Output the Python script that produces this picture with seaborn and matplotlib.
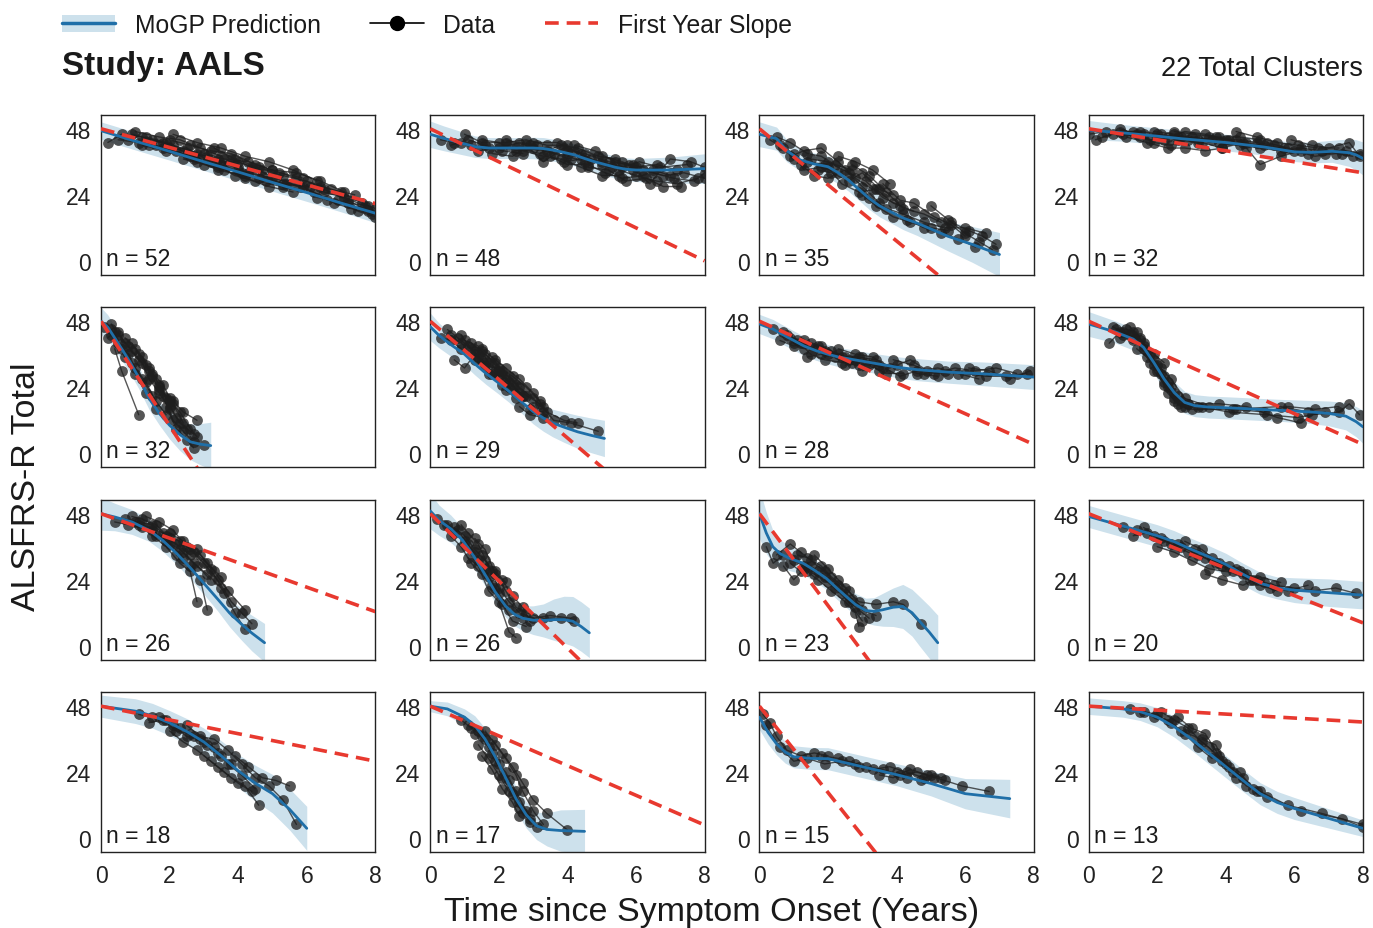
import numpy as np
import pandas as pd
import matplotlib
matplotlib.use("Agg")
import matplotlib.pyplot as plt
from matplotlib.lines import Line2D
from matplotlib.patches import Patch
import seaborn as sns

# ---------------- data ----------------
N_PATIENTS = [52, 48, 35, 32, 32, 29, 28, 28, 26, 26, 23, 20, 18, 17, 15, 13]
FIRST_YEAR_SLOPE = [-3.4, -6.0, -10.2, -2.0, -19.0, -10.6, -5.6, -5.6,
                    -4.45, -12.2, -16.7, -4.96, -2.5, -5.4, -15.7, -0.72]
SLOPE_INTERCEPT = 48
X_TICKS = [0, 2, 4, 6, 8]
Y_TICKS = [0, 24, 48]
TOTAL_CLUSTERS = 22
STUDY = "AALS"

# MoGP mean (knots) and half-width of the band at the same knots
GP_X = [
    [0, 1, 2, 3, 4, 5, 6, 7, 8],
    [0, 0.4, 0.7, 1.0, 1.3, 1.7, 2, 2.5, 3, 3.3, 3.6, 3.9, 4.2, 4.5, 4.8, 5.1, 5.4, 5.7, 6, 7, 8],
    [0, 0.5, 0.8, 1.2, 1.6, 2, 2.3, 2.6, 2.9, 3.2, 3.5, 3.8, 4.2, 4.6, 5.5, 6.2, 7.0],
    [0, 1, 2, 2.7, 4, 5.1, 5.6, 6, 6.5, 7.1, 7.6, 7.8, 8],
    [0, 0.2, 0.5, 0.85, 1.1, 1.4, 1.7, 2.0, 2.3, 2.6, 2.9, 3.2],
    [0, 0.26, 0.6, 1.0, 1.3, 1.63, 2.0, 2.3, 2.6, 3.0, 3.3, 3.57, 3.9, 4.3, 4.7, 5.08],
    [0, 0.4, 0.7, 1, 1.3, 1.65, 2, 2.3, 2.9, 3.5, 4, 4.6, 5.5, 6.5, 8],
    [0, 0.8, 1.3, 1.6, 1.9, 2.2, 2.5, 2.8, 3.1, 3.5, 4.1, 5.6, 6.5, 7.0, 7.5, 7.8, 8],
    [0, 0.4, 0.9, 1.4, 1.8, 2.2, 2.6, 3.0, 3.4, 3.75, 4.1, 4.4, 4.77],
    [0, 0.26, 0.6, 0.94, 1.3, 1.63, 1.9, 2.2, 2.45, 2.7, 3.0, 3.3, 3.6, 3.9, 4.16, 4.4, 4.64],
    [0, 0.2, 0.39, 0.6, 0.88, 1.27, 1.6, 1.95, 2.25, 2.53, 2.8, 3.1, 3.35, 3.6, 3.9, 4.18,
     4.45, 4.67, 4.95, 5.2],
    [0, 1, 2, 2.5, 3, 3.5, 4, 4.5, 5, 5.5, 6, 7, 8],
    [0, 1, 1.5, 2, 2.5, 3, 3.5, 4, 4.5, 5, 5.5, 6],
    [0, 0.5, 1, 1.3, 1.6, 1.9, 2.2, 2.5, 2.8, 3.1, 3.4, 3.8, 4.5],
    [0, 0.25, 0.5, 0.75, 1, 1.5, 2, 3, 4, 5, 6, 7.3],
    [0, 1, 1.5, 2, 2.5, 3, 3.5, 4, 4.5, 5, 5.5, 6, 7, 8],
]
GP_Y = [
    [47.3, 43.5, 39.8, 36.0, 32.3, 28.5, 24.8, 21.0, 17.3],
    [46, 44.5, 43.5, 42.5, 41.5, 41, 41, 41, 41, 40.8, 40.2, 39.4, 38.5, 37.2, 36, 35, 34,
     33.3, 33, 33, 33.5],
    [46, 44.4, 40, 36.6, 35.2, 34.2, 32, 29.3, 26, 22.7, 20, 18, 15.5, 13.7, 8.9, 6, 2.3],
    [47.5, 46.5, 45.3, 44.4, 43, 41.4, 40.4, 39.6, 39.4, 39.8, 39.3, 38.5, 37.2],
    [48, 45.8, 40, 33.1, 27.5, 20, 14.5, 10.2, 6.8, 4.2, 3.3, 2.8],
    [46, 42.8, 39.5, 36, 32.5, 29, 25.5, 22.5, 19.3, 15.2, 12.8, 11, 9.5, 7.8, 6.5, 5.4],
    [47, 45.1, 43, 41, 39, 37.3, 36, 35, 33.7, 32.4, 31.3, 30.4, 29.5, 28.9, 27.7],
    [47, 44, 41.5, 38.5, 33, 27, 22, 18.5, 17.3, 16.8, 16.5, 15.6, 15, 14.5, 13.5, 11.5, 9.6],
    [48, 46.8, 45, 42, 38.3, 33.6, 28.4, 22.7, 17, 11.9, 7.8, 4.6, 1.1],
    [49, 45.6, 42.5, 38.4, 32, 25.2, 19.5, 14.4, 11.5, 10, 9.3, 9.2, 9.5, 9.5, 8.9, 7, 4.7],
    [48, 41, 36, 33.5, 31.8, 30, 27.5, 24.5, 21, 17.9, 15, 12.8, 12.5, 13.1, 14, 14.3, 12,
     8.9, 5, 1.1],
    [47, 43.5, 40, 37.8, 35, 32.4, 29.6, 26, 22.7, 21, 20.2, 19.3, 18.4],
    [48, 46.2, 44.5, 41.9, 38.8, 35, 30, 24.5, 20, 16.2, 10.5, 3.6],
    [48, 47, 44, 41, 36, 29.5, 22, 14.4, 8.5, 4.5, 3.2, 2.8, 2.5],
    [44, 38.5, 34.3, 31.3, 29.6, 29, 28.9, 26, 23.1, 19.9, 16.2, 14.4],
    [48, 47, 46, 44, 40.5, 36, 31, 26, 21, 16.2, 13, 10.8, 7.2, 3.6],
]
GP_BAND = [
    [3.2, 3.2, 3.2, 3.2, 3.2, 3.2, 3.2, 3.2, 3.4],
    [4.8, 4.5, 4.3, 4.1, 3.9, 3.8, 3.8, 3.8, 3.9, 4, 4, 4, 4, 4, 4, 4, 4, 4.1, 4.2, 4.7, 5.4],
    [4.5, 4.2, 4, 4, 4, 4, 4, 4, 4, 4, 4, 4, 4.2, 4.5, 5.3, 6.5, 8],
    [3.5, 3, 3, 3, 3, 3, 3.2, 3.5, 3.8, 4, 5, 5.5, 6],
    [5, 4.5, 4.2, 4, 4, 4, 4.2, 5, 5.8, 6.5, 7.5, 8.5],
    [5, 4.5, 4.2, 4, 4, 4, 4, 4, 4, 4.5, 4.8, 5, 5.5, 6, 6.3, 6.6],
    [3.5, 3.5, 3.5, 3.5, 3.5, 3.5, 3.5, 3.5, 3.5, 3.6, 3.8, 4, 4, 4.3, 4.5],
    [4.5, 4, 4, 4, 4, 4, 4, 4, 4, 4, 4, 4, 4.2, 4.5, 5, 5.5, 6],
    [6, 5, 4.5, 4, 4, 4, 4, 4, 4.3, 5, 5.8, 6.5, 7],
    [6.5, 5.5, 5, 4.5, 4.2, 4, 4, 4, 4.2, 4.5, 5.2, 6, 7.5, 8.5, 9, 9, 9],
    [9, 7.5, 6, 5, 4.5, 4, 4, 4, 4, 4, 4, 4.5, 5, 6, 7, 8, 8.5, 9, 9.5, 10],
    [4, 4, 4, 4, 4, 4, 4, 4, 4, 4, 4.5, 5, 5],
    [4, 4.5, 4.5, 4.5, 4.7, 5, 5.5, 6, 6.5, 7, 7.5, 8],
    [2, 2.5, 3, 3.5, 4, 4, 4, 4.5, 4.8, 5, 6, 7.5, 8],
    [4.5, 4.2, 4, 4, 4, 4, 4, 4, 4, 4.5, 5.5, 7],
    [3, 3, 3.2, 3.5, 3.8, 4, 4, 4, 4, 4, 4, 4, 3.5, 3],
]

# patient trajectories: (years since onset, ALSFRS-R total)
DATA_01 = [
    [(0.2, 43), (0.6, 46), (1.2, 45), (1.8, 43), (2.4, 40)],
    [(0.9, 46), (1.5, 44), (2.1, 42), (2.8, 39), (3.4, 37), (4.0, 34)],
    [(1.3, 45), (1.9, 43), (2.5, 39), (3.1, 38), (3.7, 35), (4.3, 32), (5.0, 30)],
    [(1.6, 42), (2.2, 40), (2.8, 36), (3.5, 35), (4.1, 32), (4.8, 29)],
    [(2.0, 44), (2.6, 42), (3.2, 40), (3.8, 39), (4.5, 35), (5.2, 32), (5.9, 30)],
    [(2.4, 37), (3.0, 35), (3.6, 33), (4.2, 30), (4.9, 27), (5.6, 25)],
    [(3.3, 41), (3.9, 37), (4.6, 34), (5.3, 31), (6.0, 29), (6.7, 26), (7.4, 24)],
    [(4.4, 33), (5.0, 33), (5.7, 30), (6.4, 27), (7.0, 25), (7.6, 21), (8.0, 19)],
    [(5.5, 28), (6.2, 25), (6.8, 21), (7.3, 19), (7.9, 17)],
    [(6.3, 23), (6.9, 22), (7.5, 18), (8.0, 16)],
    [(1.0, 47), (1.7, 45), (2.3, 44), (2.9, 41), (3.5, 38)],
    [(0.5, 44), (1.1, 43), (1.8, 41), (2.6, 38), (3.3, 36), (4.0, 36), (4.7, 33)],
    [(2.7, 38), (3.4, 34), (4.0, 33), (4.6, 30), (5.4, 28), (6.1, 27)],
    [(6.5, 25), (7.1, 23), (7.7, 20)],
    [(0.8, 44), (1.4, 42), (2.0, 41), (2.7, 37), (3.4, 33), (4.2, 31)],
    [(1.2, 42), (1.9, 40), (2.5, 41), (3.2, 36), (3.9, 31), (4.5, 29), (5.3, 27)],
    [(2.1, 46), (2.8, 43), (3.5, 41), (4.2, 38), (4.9, 36), (5.6, 33), (6.3, 29)],
    [(3.0, 39), (3.6, 37), (4.3, 36), (5.0, 33), (5.7, 32), (6.4, 29), (7.1, 25)],
    [(4.7, 31), (5.3, 28), (5.9, 27), (6.6, 22), (7.2, 21), (7.8, 20)],
    [(3.8, 37), (4.4, 34), (5.1, 30), (5.8, 27), (6.5, 26), (7.2, 22), (7.8, 18)],
]
DATA_02 = [
    [(0.3, 44), (0.7, 43), (1.2, 42), (1.7, 41), (2.3, 42)],
    [(0.9, 43), (1.4, 40), (2.0, 41), (2.6, 43), (3.1, 42)],
    [(1.5, 44), (2.0, 43), (2.5, 40), (3.0, 41), (3.6, 39), (4.1, 37)],
    [(1.8, 39), (2.4, 38), (2.9, 42), (3.4, 40), (4.0, 38), (4.5, 36)],
    [(2.2, 44), (2.8, 42), (3.3, 36), (3.9, 41), (4.4, 39), (5.0, 35)],
    [(3.0, 43), (3.7, 43), (4.2, 40), (4.7, 37), (5.3, 34), (5.9, 33)],
    [(3.5, 38), (4.0, 35), (4.6, 35), (5.1, 32), (5.6, 30), (6.2, 31)],
    [(4.2, 42), (4.8, 40), (5.4, 36), (6.0, 34), (6.6, 35), (7.2, 33)],
    [(4.6, 34), (5.2, 33), (5.7, 29), (6.3, 30), (6.8, 27), (7.3, 27)],
    [(5.0, 38), (5.6, 36), (6.2, 33), (6.8, 31), (7.4, 32), (8.0, 30)],
    [(5.8, 35), (6.4, 28), (7.0, 37), (7.6, 36), (8.0, 34)],
    [(6.5, 32), (7.1, 30), (7.7, 29), (8.0, 32)],
    [(0.6, 42), (1.1, 44), (1.6, 42), (2.1, 40), (2.7, 39)],
    [(2.5, 41), (3.2, 39), (3.8, 42), (4.3, 41), (4.9, 38), (5.4, 37)],
    [(4.0, 40), (4.5, 39), (5.2, 36), (5.9, 35), (6.5, 33), (7.0, 31)],
    [(1.0, 46), (1.5, 43), (2.2, 43), (2.8, 44), (3.4, 42), (4.0, 42)],
    [(2.7, 40), (3.3, 38), (3.8, 37), (4.4, 34), (5.0, 31), (5.5, 31)],
    [(5.5, 33), (6.0, 31), (6.6, 29), (7.2, 28), (7.8, 30)],
    [(3.9, 36), (4.4, 37), (5.0, 36), (5.6, 34), (6.1, 36), (6.7, 34), (7.5, 35)],
]
DATA_03 = [
    [(0.3, 44), (0.7, 41), (1.0, 37), (1.4, 36), (1.9, 35)],
    [(0.6, 42), (1.0, 39), (1.3, 33), (1.8, 34), (2.3, 32)],
    [(0.9, 38), (1.3, 40), (1.8, 41), (2.3, 36), (2.8, 30), (3.3, 26)],
    [(1.2, 35), (1.6, 31), (2.0, 30), (2.5, 33), (3.0, 27), (3.5, 21)],
    [(1.5, 37), (2.0, 36), (2.6, 32), (3.1, 29), (3.6, 23), (4.1, 20)],
    [(2.0, 34), (2.4, 28), (2.9, 25), (3.4, 26), (3.9, 21), (4.5, 18)],
    [(2.7, 35), (3.2, 31), (3.7, 25), (4.2, 19), (4.8, 17), (5.3, 14)],
    [(3.0, 24), (3.4, 20), (3.9, 16), (4.4, 14), (5.0, 12), (5.5, 11)],
    [(3.6, 28), (4.1, 22), (4.5, 21), (5.1, 16), (5.6, 13), (6.0, 9)],
    [(4.3, 15), (4.8, 12), (5.3, 10), (5.8, 8), (6.3, 5)],
    [(5.0, 20), (5.5, 15), (6.0, 10), (6.4, 7), (6.8, 4)],
    [(2.3, 38), (2.8, 36), (3.3, 33), (3.8, 28)],
    [(5.6, 14), (6.1, 11), (6.5, 9), (6.9, 6)],
    [(0.5, 45), (0.9, 43), (1.4, 39), (1.8, 38), (2.2, 35), (2.7, 33)],
    [(1.7, 33), (2.1, 32), (2.6, 29), (3.0, 32), (3.5, 26), (3.9, 24)],
    [(3.2, 23), (3.7, 19), (4.2, 17), (4.8, 14), (5.4, 12), (6.0, 12), (6.6, 10)],
]
DATA_04 = [
    [(0.0, 46), (0.5, 47), (1.0, 46), (1.5, 45), (2.0, 46), (2.6, 45)],
    [(0.2, 44), (0.7, 46), (1.3, 47), (1.8, 44), (2.3, 45), (2.9, 44)],
    [(0.9, 48), (1.4, 46), (1.9, 43), (2.4, 42), (3.0, 45), (3.6, 44)],
    [(1.6, 46), (2.2, 44), (2.8, 47), (3.4, 46), (4.0, 44), (4.6, 43)],
    [(2.7, 45), (3.3, 43), (3.9, 41), (4.5, 43), (5.1, 42), (5.7, 41)],
    [(3.5, 45), (4.1, 44), (4.6, 41), (5.0, 35), (5.6, 38), (6.2, 40)],
    [(4.3, 47), (4.9, 45), (5.5, 43), (6.1, 42), (6.7, 41), (7.3, 41)],
    [(5.2, 43), (5.8, 41), (6.4, 39), (6.9, 39), (7.5, 40), (7.9, 39)],
    [(5.9, 44), (6.5, 42), (7.0, 41), (7.6, 43), (7.9, 38)],
    [(1.1, 45), (1.7, 43), (2.3, 41), (2.8, 41), (3.4, 40), (3.9, 41)],
    [(6.0, 40), (6.6, 38), (7.2, 39), (7.7, 38)],
    [(0.4, 45), (0.9, 47), (1.5, 47), (2.1, 46), (2.6, 44), (3.2, 43)],
    [(2.5, 47), (3.1, 46), (3.7, 45), (4.3, 44), (4.9, 43), (5.4, 42)],
    [(3.8, 43), (4.4, 42), (5.0, 41), (5.6, 40), (6.2, 41), (6.8, 40), (7.4, 39)],
    [(1.9, 47), (2.5, 46), (3.2, 44), (3.8, 45), (4.4, 45), (5.0, 44)],
]
DATA_05 = [
    [(0.1, 46), (0.3, 43), (0.6, 38), (0.9, 33), (1.2, 27), (1.5, 21)],
    [(0.3, 45), (0.5, 40), (0.8, 36), (1.0, 31), (1.3, 26), (1.6, 19), (1.9, 14)],
    [(0.5, 44), (0.7, 40), (0.9, 37), (1.2, 33), (1.4, 27), (1.7, 22), (2.0, 16)],
    [(0.4, 38), (0.6, 30), (1.1, 14)],
    [(0.7, 42), (1.0, 38), (1.3, 32), (1.6, 27), (1.9, 20), (2.2, 13), (2.5, 9)],
    [(1.1, 36), (1.4, 31), (1.7, 25), (2.0, 17), (2.3, 11), (2.7, 7)],
    [(1.5, 28), (1.8, 21), (2.1, 12), (2.4, 8), (2.7, 4), (3.0, 3)],
    [(1.7, 24), (2.0, 19), (2.3, 15), (2.6, 9), (2.8, 6)],
    [(0.2, 42), (0.4, 44), (0.7, 35), (1.0, 29), (1.3, 22), (1.6, 16)],
    [(1.9, 17), (2.2, 9), (2.5, 5), (2.7, 2)],
    [(2.1, 19), (2.4, 15), (2.8, 12)],
    [(0.3, 47), (0.5, 43), (0.8, 39), (1.1, 34), (1.4, 30), (1.7, 23), (2.0, 20)],
    [(0.9, 40), (1.2, 35), (1.5, 29), (1.8, 25), (2.1, 18), (2.4, 11)],
]
DATA_06 = [
    [(0.3, 42), (0.6, 41), (0.9, 38), (1.3, 34), (1.7, 29), (2.1, 25)],
    [(0.5, 45), (0.8, 42), (1.1, 39), (1.5, 34), (1.9, 30), (2.3, 26), (2.7, 21)],
    [(0.7, 34), (1.0, 31), (1.3, 36), (1.6, 32), (2.0, 28)],
    [(0.9, 43), (1.2, 38), (1.6, 36), (2.0, 31), (2.4, 28), (2.8, 24), (3.2, 19)],
    [(1.2, 40), (1.5, 37), (1.9, 33), (2.2, 27), (2.6, 22), (3.0, 17)],
    [(1.4, 35), (1.8, 29), (2.2, 23), (2.5, 20), (2.9, 16), (3.3, 15)],
    [(1.8, 35), (2.1, 30), (2.5, 25), (2.8, 21), (3.2, 18), (3.6, 12), (4.1, 11), (4.9, 8)],
    [(2.3, 28), (2.6, 24), (3.0, 20), (3.4, 15), (3.9, 12), (4.3, 11)],
    [(1.0, 41), (1.4, 39), (1.7, 33), (2.1, 29), (2.4, 25)],
    [(2.6, 17), (2.9, 14), (3.3, 13)],
    [(0.6, 43), (0.9, 40), (1.3, 37), (1.6, 33), (2.0, 30), (2.3, 24), (2.7, 21)],
    [(1.5, 38), (1.9, 34), (2.2, 31), (2.6, 27), (3.0, 22), (3.3, 17)],
]
DATA_07 = [
    [(0.4, 45), (0.8, 43), (1.2, 40), (1.6, 38), (2.0, 36), (2.5, 35)],
    [(0.7, 44), (1.1, 41), (1.5, 36), (1.9, 34), (2.4, 33), (2.9, 32)],
    [(1.0, 40), (1.3, 38), (1.7, 39), (2.1, 37), (2.6, 34), (3.1, 33), (3.6, 31)],
    [(1.4, 35), (1.8, 36), (2.2, 35), (2.7, 33), (3.2, 32), (3.7, 29), (4.2, 29)],
    [(2.3, 38), (2.8, 36), (3.3, 35), (3.8, 31), (4.4, 34), (4.9, 30), (5.5, 29)],
    [(3.0, 30), (3.5, 32), (4.1, 28), (4.6, 30), (5.2, 31), (5.8, 29), (6.4, 27)],
    [(3.9, 34), (4.5, 32), (5.1, 29), (5.7, 31), (6.3, 30), (6.9, 31), (7.5, 29)],
    [(4.8, 29), (5.4, 30), (6.0, 29), (6.6, 28), (7.2, 28), (7.8, 29)],
    [(6.1, 31), (6.7, 30), (7.3, 27), (7.9, 30)],
    [(0.9, 42), (1.3, 41), (1.8, 39), (2.3, 36), (2.8, 34)],
    [(0.6, 41), (1.0, 39), (1.5, 40), (1.9, 37), (2.4, 35), (2.9, 35), (3.4, 34)],
    [(2.5, 32), (3.0, 35), (3.5, 30), (4.0, 32), (4.6, 29), (5.2, 28)],
]
DATA_08 = [
    [(0.6, 40), (0.9, 44), (1.2, 43), (1.5, 41), (1.8, 36), (2.1, 29), (2.4, 24), (2.7, 19)],
    [(0.8, 45), (1.1, 45), (1.4, 44), (1.7, 37), (2.0, 32), (2.3, 26), (2.6, 21)],
    [(1.0, 43), (1.3, 41), (1.6, 39), (1.9, 34), (2.2, 28), (2.5, 22), (2.9, 18), (3.3, 17)],
    [(1.2, 46), (1.5, 42), (1.8, 33), (2.1, 31), (2.4, 27), (2.8, 20), (3.5, 17),
     (4.2, 16), (5.6, 17), (6.4, 15)],
    [(1.4, 38), (1.7, 35), (2.0, 30), (2.3, 22), (2.6, 18), (3.2, 17), (4.1, 15),
     (5.2, 14), (6.1, 13), (6.9, 15)],
    [(2.2, 26), (2.5, 20), (2.9, 18), (3.8, 18), (4.6, 17), (5.5, 13), (6.2, 11),
     (6.5, 14), (7.3, 15), (7.6, 18), (7.9, 14)],
    [(1.9, 30), (2.3, 24), (2.7, 17), (3.0, 16), (4.3, 16), (5.1, 15), (5.8, 17),
     (6.6, 16), (7.3, 17)],
    [(0.9, 42), (1.3, 44), (1.6, 40), (1.9, 36), (2.2, 33)],
    [(0.7, 46), (1.0, 44), (1.3, 42), (1.6, 38), (1.9, 32), (2.2, 25), (2.5, 19), (2.8, 17)],
]
DATA_09 = [
    [(0.4, 45), (0.8, 44), (1.2, 43), (1.6, 40), (2.0, 37), (2.4, 32)],
    [(0.9, 47), (1.2, 46), (1.6, 44), (2.0, 39), (2.4, 34), (2.8, 29), (3.2, 24)],
    [(1.1, 44), (1.5, 42), (1.9, 38), (2.3, 35), (2.7, 30), (3.1, 26), (3.5, 21)],
    [(1.3, 47), (1.7, 45), (2.1, 42), (2.5, 36), (2.9, 33), (3.3, 27), (3.7, 20), (4.2, 13)],
    [(1.5, 40), (1.9, 36), (2.3, 30), (2.6, 27), (2.8, 16)],
    [(2.0, 41), (2.4, 38), (2.8, 35), (3.2, 28), (3.6, 19), (3.9, 12), (4.2, 6)],
    [(2.2, 33), (2.6, 29), (2.9, 24), (3.1, 13)],
    [(2.6, 35), (3.0, 30), (3.4, 24), (3.8, 16), (4.1, 12), (4.4, 8)],
    [(1.0, 45), (1.4, 43), (1.8, 41), (2.2, 37), (2.6, 33)],
    [(0.7, 46), (1.1, 45), (1.5, 44), (1.9, 40), (2.3, 38), (2.7, 34), (3.1, 30), (3.5, 25)],
]
DATA_10 = [
    [(0.2, 46), (0.5, 44), (0.8, 42), (1.1, 37), (1.4, 31), (1.7, 25), (2.0, 19)],
    [(0.4, 44), (0.7, 41), (1.0, 38), (1.3, 34), (1.6, 28), (1.9, 21), (2.3, 13), (2.7, 10)],
    [(0.6, 40), (0.9, 36), (1.2, 30), (1.5, 26), (1.8, 22), (2.1, 15), (2.4, 9), (2.8, 7)],
    [(0.9, 44), (1.1, 41), (1.4, 37), (1.7, 29), (2.0, 21), (2.3, 16), (2.6, 12),
     (3.0, 10), (3.5, 11), (4.1, 10)],
    [(1.1, 32), (1.4, 29), (1.7, 20), (2.0, 16), (2.3, 5), (2.5, 3)],
    [(1.3, 39), (1.6, 35), (1.9, 26), (2.2, 20), (2.5, 14), (2.8, 12), (3.3, 10),
     (3.8, 10), (4.2, 9)],
    [(1.5, 33), (1.8, 27), (2.1, 24), (2.4, 18), (2.7, 14), (2.9, 9)],
    [(0.7, 43), (1.0, 40), (1.3, 35), (1.6, 31), (1.9, 27), (2.2, 23)],
]
DATA_11 = [
    [(0.2, 36), (0.4, 30), (0.7, 33), (1.0, 31), (1.3, 29), (1.7, 27)],
    [(0.5, 33), (0.9, 37), (1.2, 34), (1.5, 31), (1.9, 27), (2.3, 22), (2.7, 17)],
    [(0.7, 29), (1.0, 24), (1.3, 28), (1.6, 26), (2.0, 23), (2.4, 19), (2.8, 14), (3.2, 10)],
    [(1.1, 33), (1.4, 32), (1.8, 29), (2.1, 25), (2.5, 21), (2.9, 16), (3.4, 15),
     (3.9, 16), (4.2, 15), (4.7, 8)],
    [(1.4, 27), (1.7, 24), (2.1, 20), (2.5, 16), (2.8, 12), (2.9, 7)],
    [(1.6, 33), (2.0, 28), (2.3, 24), (2.6, 20), (3.0, 13), (3.4, 11)],
    [(0.9, 30), (1.2, 27), (1.5, 29), (1.9, 25), (2.2, 21), (2.6, 16), (3.0, 9)],
]
DATA_12 = [
    [(1.0, 43), (1.4, 42), (1.9, 40), (2.4, 37), (2.9, 34), (3.4, 32), (3.9, 29)],
    [(1.3, 40), (1.7, 41), (2.2, 38), (2.7, 36), (3.2, 33), (3.7, 30), (4.2, 27), (4.7, 24)],
    [(1.6, 43), (2.1, 39), (2.6, 37), (3.1, 35), (3.6, 32), (4.1, 29), (4.6, 26), (5.1, 23)],
    [(2.0, 36), (2.5, 34), (3.0, 31), (3.5, 28), (4.0, 27), (4.5, 26), (5.0, 22), (5.5, 20)],
    [(2.8, 38), (3.3, 35), (3.8, 30), (4.3, 28), (4.8, 24), (5.3, 21), (5.8, 20), (6.4, 22)],
    [(4.4, 27), (4.9, 24), (5.4, 22), (6.0, 21), (6.6, 20), (7.2, 21), (7.8, 19)],
    [(3.4, 26), (3.9, 24), (4.5, 22), (5.0, 25), (5.6, 23)],
]
DATA_13 = [
    [(1.1, 45), (1.5, 44), (1.9, 43), (2.3, 40), (2.7, 37), (3.1, 34), (3.5, 30)],
    [(1.4, 42), (1.8, 43), (2.2, 39), (2.6, 38), (3.0, 35), (3.4, 31), (3.8, 27)],
    [(1.7, 44), (2.1, 41), (2.5, 37), (2.9, 36), (3.3, 33), (3.7, 27), (4.1, 23), (4.5, 18)],
    [(2.0, 39), (2.4, 35), (2.8, 32), (3.2, 28), (3.6, 24), (4.0, 20), (4.4, 17)],
    [(2.5, 41), (2.9, 37), (3.3, 36), (3.7, 32), (4.1, 27), (4.5, 22), (4.9, 19),
     (5.3, 14), (5.7, 5)],
    [(3.0, 30), (3.4, 26), (3.8, 22), (4.2, 19), (4.6, 12)],
    [(3.9, 30), (4.3, 26), (4.7, 22), (5.1, 21), (5.5, 19)],
]
DATA_14 = [
    [(0.9, 43), (1.2, 40), (1.5, 37), (1.8, 31), (2.1, 22), (2.4, 16), (2.7, 9)],
    [(1.1, 41), (1.4, 39), (1.7, 33), (2.0, 27), (2.3, 21), (2.6, 13), (2.9, 6)],
    [(1.3, 38), (1.6, 36), (1.9, 28), (2.2, 24), (2.5, 17), (2.8, 10), (3.1, 4)],
    [(1.4, 34), (1.7, 29), (2.0, 23), (2.3, 17), (2.6, 11), (2.9, 7)],
    [(1.6, 39), (1.9, 34), (2.2, 29), (2.5, 23), (2.7, 17), (3.0, 10), (3.3, 5)],
    [(1.8, 36), (2.1, 31), (2.4, 26), (2.7, 20), (3.0, 14), (3.4, 9), (4.0, 3)],
    [(1.5, 30), (1.8, 25), (2.1, 18), (2.4, 13), (2.6, 8)],
]
DATA_15 = [
    [(0.1, 45), (0.3, 42), (0.5, 37), (0.8, 32), (1.2, 30), (1.6, 31), (2.0, 30)],
    [(0.2, 41), (0.6, 33), (1.0, 28), (1.4, 29), (1.9, 27), (2.4, 28), (2.9, 26)],
    [(1.8, 30), (2.3, 29), (2.8, 27), (3.3, 25), (3.8, 26), (4.3, 24), (4.8, 22)],
    [(2.6, 28), (3.1, 26), (3.6, 25), (4.1, 23), (4.6, 24), (5.1, 22)],
    [(3.5, 23), (3.9, 22), (4.4, 25), (4.9, 23), (5.4, 21), (5.9, 19), (6.7, 17)],
    [(4.0, 24), (4.3, 22), (4.7, 21), (5.0, 23), (5.3, 22)],
]
DATA_16 = [
    [(1.2, 47), (1.6, 46), (2.0, 45), (2.4, 42), (2.8, 38), (3.2, 33), (3.6, 29)],
    [(1.5, 46), (1.9, 44), (2.3, 43), (2.7, 39), (3.1, 37), (3.5, 33), (3.9, 28), (4.3, 22)],
    [(2.1, 46), (2.5, 43), (2.9, 40), (3.3, 35), (3.7, 31), (4.1, 26), (4.5, 22), (4.9, 17)],
    [(2.6, 44), (3.0, 40), (3.4, 38), (3.8, 30), (4.2, 24), (4.6, 19), (5.0, 17),
     (5.8, 12), (6.8, 9), (8.0, 5)],
    [(3.3, 36), (3.7, 34), (4.0, 27), (4.4, 24), (4.8, 18), (5.2, 15), (6.2, 10),
     (7.4, 7), (8.0, 4)],
]
DATA_PANELS = [DATA_01, DATA_02, DATA_03, DATA_04, DATA_05, DATA_06, DATA_07, DATA_08,
               DATA_09, DATA_10, DATA_11, DATA_12, DATA_13, DATA_14, DATA_15, DATA_16]

# ---------------- style ----------------
sns.set_theme(style="white")
FONT = ["Liberation Sans", "DejaVu Sans"]
plt.rcParams["font.family"] = FONT
plt.rcParams["axes.edgecolor"] = "#222222"
plt.rcParams["axes.linewidth"] = 1.0

BLUE = "#1f6fa8"
BAND = "#cde1ec"
RED = "#e8392f"
DOT = "#1e1e1e"
SLOPE_DASH = (0, (3.8, 2.2))

fig, axes = plt.subplots(4, 4, figsize=(13.73, 9.29), dpi=100)
fig.subplots_adjust(left=101 / 1373, right=1363 / 1373, top=1 - 116 / 929,
                    bottom=1 - 853 / 929, wspace=0.2, hspace=0.206)

for i, ax in enumerate(axes.flat):
    gx = np.array(GP_X[i], float)
    gy = np.array(GP_Y[i], float)
    gb = np.array(GP_BAND[i], float)
    ax.fill_between(gx, gy - gb, gy + gb, color=BAND, lw=0, zorder=1)

    rows = []
    for pid, traj in enumerate(DATA_PANELS[i]):
        for t, s in traj:
            rows.append({"pid": pid, "t": t, "score": s})
    df = pd.DataFrame(rows)
    sns.lineplot(data=df, x="t", y="score", units="pid", estimator=None, ax=ax,
                 color=DOT, lw=1.0, marker="o", markersize=7.8, markeredgewidth=0,
                 alpha=0.75, zorder=2, legend=False)

    gp_df = pd.DataFrame({"t": gx, "mean": gy})
    sns.lineplot(data=gp_df, x="t", y="mean", ax=ax, color=BLUE, lw=2.0,
                 estimator=None, sort=False, zorder=3, legend=False)

    sx = np.array([0.0, 8.0])
    sy = SLOPE_INTERCEPT + FIRST_YEAR_SLOPE[i] * sx
    ax.plot(sx, sy, color=RED, lw=2.6, ls=SLOPE_DASH, zorder=4)

    ax.set_xlim(0, 8)
    ax.set_ylim(-5, 53)
    ax.set_xticks(X_TICKS)
    ax.set_yticks(Y_TICKS)
    ax.set_xlabel("")
    ax.set_ylabel("")
    ax.tick_params(axis="both", length=0, labelsize=16.5, colors="#222222")
    ax.tick_params(axis="y", pad=7)
    ax.tick_params(axis="x", pad=9)
    if i < 12:
        ax.set_xticklabels([])
    for sp in ax.spines.values():
        sp.set_visible(True)
        sp.set_color("#222222")
    ax.text(0.02, 0.03, f"n = {N_PATIENTS[i]}", transform=ax.transAxes,
            fontsize=16.5, color="#1a1a1a", ha="left", va="bottom", zorder=5)

fig.text(27 / 1373, 1 - 487 / 929, "ALSFRS-R Total", rotation=90, ha="center",
         va="center", fontsize=24.5, color="#1a1a1a")
fig.text(712 / 1373, 1 - 913 / 929, "Time since Symptom Onset (Years)", ha="center",
         va="center", fontsize=24.5, color="#1a1a1a")
fig.text(62 / 1373, 1 - 67 / 929, f"Study: {STUDY}", ha="left", va="center",
         fontsize=24, fontweight="bold", color="#1a1a1a")
fig.text(1363 / 1373, 1 - 69 / 929, f"{TOTAL_CLUSTERS} Total Clusters", ha="right",
         va="center", fontsize=19.5, color="#1a1a1a")

h_gp = (Patch(facecolor=BAND, edgecolor="none"), Line2D([], [], color=BLUE, lw=2.5))
h_data = Line2D([], [], color="black", lw=1.2, marker="o", markersize=10)
h_slope = Line2D([], [], color=RED, lw=2.6, ls=SLOPE_DASH)
leg = fig.legend([h_gp, h_data, h_slope], ["MoGP Prediction", "Data", "First Year Slope"],
                 loc="center left", bbox_to_anchor=(62 / 1373, 1 - 26 / 929), ncol=3,
                 frameon=False, fontsize=17.8, handlelength=2.15, handletextpad=0.8,
                 columnspacing=2.0, borderaxespad=0, borderpad=0)
for t in leg.get_texts():
    t.set_color("#1a1a1a")

fig.savefig("out.png", dpi=100)
